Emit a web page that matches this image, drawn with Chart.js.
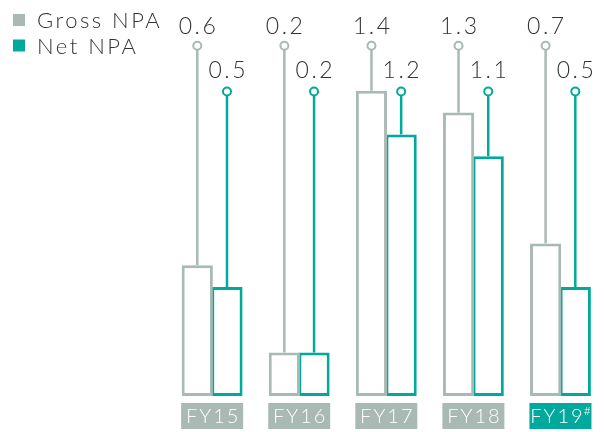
<!DOCTYPE html>
<html>
<head>
<meta charset="utf-8">
<script src="https://cdn.jsdelivr.net/npm/chart.js@4"></script>
<style>
  html, body { margin: 0; padding: 0; background: #fff; overflow: hidden; }
</style>
</head>
<body>
<canvas id="npaChart" width="604" height="432"></canvas>
<script>
// ---------data------------
const categories = ['FY15', 'FY16', 'FY17', 'FY18', 'FY19'];
const grossNPA = [0.6, 0.2, 1.4, 1.3, 0.7];
const netNPA = [0.5, 0.2, 1.2, 1.1, 0.5];
const seriesNames = ['Gross NPA', 'Net NPA'];

const gray = '#a9b9b4';
const teal = '#00a99b';
const textColor = '#333333';
const fontName = 'Lato';

// text centred by hand because letterSpacing adds a trailing gap
function centerText(ctx, str, cx, y) {
  const w = ctx.measureText(str).width - parseFloat(ctx.letterSpacing || 0);
  ctx.textAlign = 'left';
  ctx.fillText(str, cx - w / 2, y);
}

// lollipop stems go up to a fixed height above each bar, value label on top
const lollipopPlugin = {
  id: 'lollipop',
  afterDatasetsDraw(chart) {
    const ctx = chart.ctx;
    const circleY = [45.7, 91.5];
    const labelY = [34.3, 77.8];
    chart.data.datasets.forEach(function (ds, i) {
      const meta = chart.getDatasetMeta(i);
      meta.data.forEach(function (bar, j) {
        ctx.save();
        ctx.strokeStyle = ds.borderColor;
        ctx.lineWidth = 2.5;
        ctx.beginPath();
        ctx.moveTo(bar.x, bar.y);
        ctx.lineTo(bar.x, circleY[i] + 4);
        ctx.stroke();

        ctx.lineWidth = 2;
        ctx.fillStyle = '#fff';
        ctx.beginPath();
        ctx.arc(bar.x, circleY[i], 4, 0, Math.PI * 2);
        ctx.fill();
        ctx.stroke();

        ctx.fillStyle = textColor;
        ctx.font = '300 23px ' + fontName;
        ctx.letterSpacing = '2.5px';
        ctx.textBaseline = 'alphabetic';
        centerText(ctx, ds.data[j].toFixed(1), bar.x, labelY[i]);
        ctx.restore();
      });
    });
  },
  afterDraw(chart) {
    const ctx = chart.ctx;
    const x = chart.scales.x;

    // category labels in filled boxes
    categories.forEach(function (cat, i) {
      const cx = x.getPixelForValue(i);
      const last = i === categories.length - 1;
      ctx.save();
      ctx.fillStyle = last ? teal : gray;
      ctx.fillRect(cx - 31, 403, 62, 26);
      ctx.fillStyle = '#fff';
      ctx.textBaseline = 'alphabetic';
      ctx.font = '300 20px ' + fontName;
      ctx.letterSpacing = '2px';
      if (last) {
        const w = ctx.measureText(cat).width - 2;
        ctx.font = '300 12px ' + fontName;
        ctx.letterSpacing = '0px';
        const sw = ctx.measureText('#').width;
        const left = cx - (w + sw + 1) / 2;
        ctx.textAlign = 'left';
        ctx.font = '300 20px ' + fontName;
        ctx.letterSpacing = '2px';
        ctx.fillText(cat, left, 423.3);
        ctx.font = '300 12px ' + fontName;
        ctx.letterSpacing = '0px';
        ctx.fillText('#', left + w + 1, 415);
      } else {
        centerText(ctx, cat, cx, 423.3);
      }
      ctx.restore();
    });

    // legend
    const legendY = [14, 39.5];
    const legendBase = [28.3, 54.3];
    chart.data.datasets.forEach(function (ds, i) {
      ctx.save();
      ctx.fillStyle = ds.borderColor;
      ctx.fillRect(13, legendY[i], 12, 12);
      ctx.fillStyle = textColor;
      ctx.font = '300 22px ' + fontName;
      ctx.letterSpacing = '2.5px';
      ctx.textAlign = 'left';
      ctx.textBaseline = 'alphabetic';
      ctx.fillText(ds.label, 37, legendBase[i]);
      ctx.restore();
    });
  }
};

const data = {
  labels: categories,
  datasets: [
    {
      label: seriesNames[0],
      data: grossNPA,
      backgroundColor: '#ffffff',
      borderColor: gray,
      borderWidth: 3,
      borderSkipped: false
    },
    {
      label: seriesNames[1],
      data: netNPA,
      backgroundColor: '#ffffff',
      borderColor: teal,
      borderWidth: 3,
      borderSkipped: false
    }
  ]
};

const config = {
  type: 'bar',
  data: data,
  options: {
    responsive: false,
    animation: false,
    categoryPercentage: 0.682,
    barPercentage: 1.05,
    layout: {
      padding: { left: 168.6, right: 0, top: 3.6, bottom: 36 }
    },
    scales: {
      x: { display: false },
      y: { display: false, min: 0, max: 1.8 }
    },
    plugins: {
      legend: { display: false },
      tooltip: { enabled: false }
    }
  },
  plugins: [lollipopPlugin]
};

const myChart = new Chart(
  document.getElementById('npaChart'),
  config
);
</script>
</body>
</html>
